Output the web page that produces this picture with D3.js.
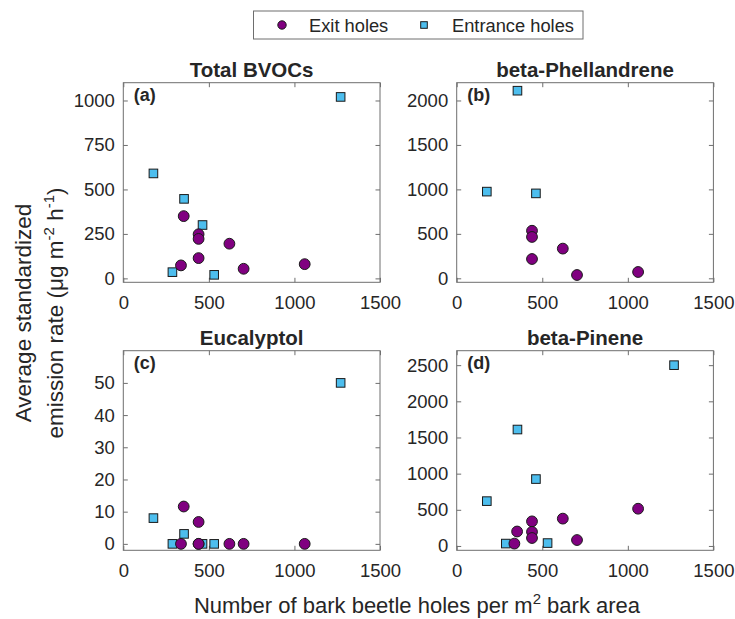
<!DOCTYPE html>
<html>
<head>
<meta charset="utf-8">
<script src="https://cdn.jsdelivr.net/npm/d3@7"></script>
<style>
  html, body { margin: 0; padding: 0; background: #fff; }
  svg text { font-family: "Liberation Sans", Arial, Helvetica, sans-serif; fill: #262626; }
</style>
</head>
<body>
<svg id="chart" width="735" height="619"></svg>
<script>
// Hole densities (holes per m² bark area)
const exitX     = [337, 353, 440, 440, 440, 620, 703, 1060];
const entranceX = [176, 287, 355, 463, 531, 1270];

// Emission rates per compound (null = not measured / not shown)
const totalExit      = [73, 350, 248, 222, 114, 195, 54, 80];
const totalEntrance  = [590, 35, 447, 300, 20, 1020];
const phellExit      = [null, null, 535, 465, 217, 334, 37, 71];
const phellEntrance  = [975, null, 2110, 955, null, null];
const eucaExit       = [0, 11.6, 6.8, 0, 0, 0, 0, 0];
const eucaEntrance   = [8, 0, 3.1, 0, 0, 50];
const pineneExit     = [33, 200, 340, 195, 110, 378, 82, 515];
const pineneEntrance = [620, 33, 1610, 925, 40, 2500];

// Titles, tags and tick values
const titles   = ["Total BVOCs", "beta-Phellandrene", "Eucalyptol", "beta-Pinene"];
const tags     = ["(a)", "(b)", "(c)", "(d)"];
const xTicks   = [0, 500, 1000, 1500];
const yTicksA  = [0, 250, 500, 750, 1000];
const yTicksB  = [0, 500, 1000, 1500, 2000];
const yTicksC  = [0, 10, 20, 30, 40, 50];
const yTicksD  = [0, 500, 1000, 1500, 2000, 2500];
const yDomains = [[-22, 1100], [-45, 2200], [-2, 60], [-60, 2700]];
const xDomain  = [0, 1500];

const seriesNames = ["Exit holes", "Entrance holes"];

const EXIT_COLOR = "#800080";
const ENTR_COLOR = "#4DBEEE";
const AXIS_COLOR = "#6e6e6e";

const panels = [
  { title: titles[0], tag: tags[0], ex: totalExit,  en: totalEntrance,  yt: yTicksA, yd: yDomains[0], col: 0, row: 0 },
  { title: titles[1], tag: tags[1], ex: phellExit,  en: phellEntrance,  yt: yTicksB, yd: yDomains[1], col: 1, row: 0 },
  { title: titles[2], tag: tags[2], ex: eucaExit,   en: eucaEntrance,   yt: yTicksC, yd: yDomains[2], col: 0, row: 1 },
  { title: titles[3], tag: tags[3], ex: pineneExit, en: pineneEntrance, yt: yTicksD, yd: yDomains[3], col: 1, row: 1 }
];

const colLeft = [123.3, 456.7];
const rowTop  = [82.7, 350.7];
const pw = 256.7, ph = 199.6;
const tickLen = 4.5;
const fmt = d3.format("d");

const svg = d3.select("#chart");

panels.forEach(p => {
  const x0 = colLeft[p.col], y0 = rowTop[p.row];
  const g = svg.append("g").attr("transform", `translate(${x0},${y0})`);
  const x = d3.scaleLinear().domain(xDomain).range([0, pw]);
  const y = d3.scaleLinear().domain(p.yd).range([ph, 0]);

  // bottom / left axes with inward ticks
  const xa = g.append("g").attr("transform", `translate(0,${ph})`)
    .call(d3.axisBottom(x).tickValues(xTicks).tickFormat(fmt).tickSizeInner(-tickLen).tickSizeOuter(0).tickPadding(13.5));
  const ya = g.append("g")
    .call(d3.axisLeft(y).tickValues(p.yt).tickFormat(fmt).tickSizeInner(-tickLen).tickSizeOuter(0).tickPadding(8.5));
  // mirrored top / right ticks
  const xt = g.append("g")
    .call(d3.axisTop(x).tickValues(xTicks).tickSizeInner(-tickLen).tickSizeOuter(0).tickFormat(""));
  const yr = g.append("g").attr("transform", `translate(${pw},0)`)
    .call(d3.axisRight(y).tickValues(p.yt).tickSizeInner(-tickLen).tickSizeOuter(0).tickFormat(""));

  [xa, ya, xt, yr].forEach(a => {
    a.select(".domain").remove();
    a.selectAll("line").attr("stroke", AXIS_COLOR).attr("stroke-width", 1);
    a.selectAll("text").attr("font-size", 18.5).attr("fill", "#262626")
      .style("font-family", '"Liberation Sans", Arial, sans-serif');
  });

  // box
  g.append("rect").attr("x", 0).attr("y", 0).attr("width", pw).attr("height", ph)
    .attr("fill", "none").attr("stroke", AXIS_COLOR).attr("stroke-width", 1);

  // title and tag
  g.append("text").attr("x", pw / 2).attr("y", -6).attr("text-anchor", "middle")
    .attr("font-size", 20.5).attr("font-weight", "bold").attr("fill", "#000").text(p.title);
  g.append("text").attr("x", 10.5).attr("y", 18.5)
    .attr("font-size", 18).attr("font-weight", "bold").attr("fill", "#000").text(p.tag);

  // entrance holes (squares)
  const enPts = entranceX.map((v, i) => ({ x: v, y: p.en[i] })).filter(d => d.y !== null);
  const s = 8.6;
  g.selectAll(".sq").data(enPts).enter().append("rect")
    .attr("x", d => x(d.x) - s / 2).attr("y", d => y(d.y) - s / 2)
    .attr("width", s).attr("height", s)
    .attr("fill", ENTR_COLOR).attr("stroke", "#1a1a1a").attr("stroke-width", 1);

  // exit holes (circles)
  const exPts = exitX.map((v, i) => ({ x: v, y: p.ex[i] })).filter(d => d.y !== null);
  g.selectAll(".ci").data(exPts).enter().append("circle")
    .attr("cx", d => x(d.x)).attr("cy", d => y(d.y)).attr("r", 5.4)
    .attr("fill", EXIT_COLOR).attr("stroke", "#1a1a1a").attr("stroke-width", 1);
});

// legend
const lg = svg.append("g");
lg.append("rect").attr("x", 253.5).attr("y", 11).attr("width", 329.5).attr("height", 28)
  .attr("fill", "#fff").attr("stroke", AXIS_COLOR).attr("stroke-width", 1);
lg.append("circle").attr("cx", 282).attr("cy", 25).attr("r", 4.2)
  .attr("fill", EXIT_COLOR).attr("stroke", "#1a1a1a").attr("stroke-width", 1);
lg.append("text").attr("x", 309).attr("y", 31.5).attr("font-size", 18.3).text(seriesNames[0]);
lg.append("rect").attr("x", 424 - 3.3).attr("y", 25 - 3.3).attr("width", 6.6).attr("height", 6.6)
  .attr("fill", ENTR_COLOR).attr("stroke", "#1a1a1a").attr("stroke-width", 1);
lg.append("text").attr("x", 452).attr("y", 31.5).attr("font-size", 18.3).text(seriesNames[1]);

// shared axis labels
svg.append("text").attr("x", 417).attr("y", 612.5).attr("text-anchor", "middle").attr("font-size", 22)
  .html('Number of bark beetle holes per m<tspan dy="-8.5" font-size="15">2</tspan><tspan dy="8.5"> bark area</tspan>');

const yl = svg.append("g").attr("transform", "translate(30.5,313) rotate(-90)");
yl.append("text").attr("x", 0).attr("y", 0).attr("text-anchor", "middle").attr("font-size", 22.5)
  .text("Average standardized");
yl.append("text").attr("x", 0).attr("y", 32).attr("text-anchor", "middle").attr("font-size", 22.5)
  .html('emission rate (μg m<tspan dy="-9" font-size="15">-2</tspan><tspan dy="9"> h</tspan><tspan dy="-9" font-size="15">-1</tspan><tspan dy="9">)</tspan>');
</script>
</body>
</html>
